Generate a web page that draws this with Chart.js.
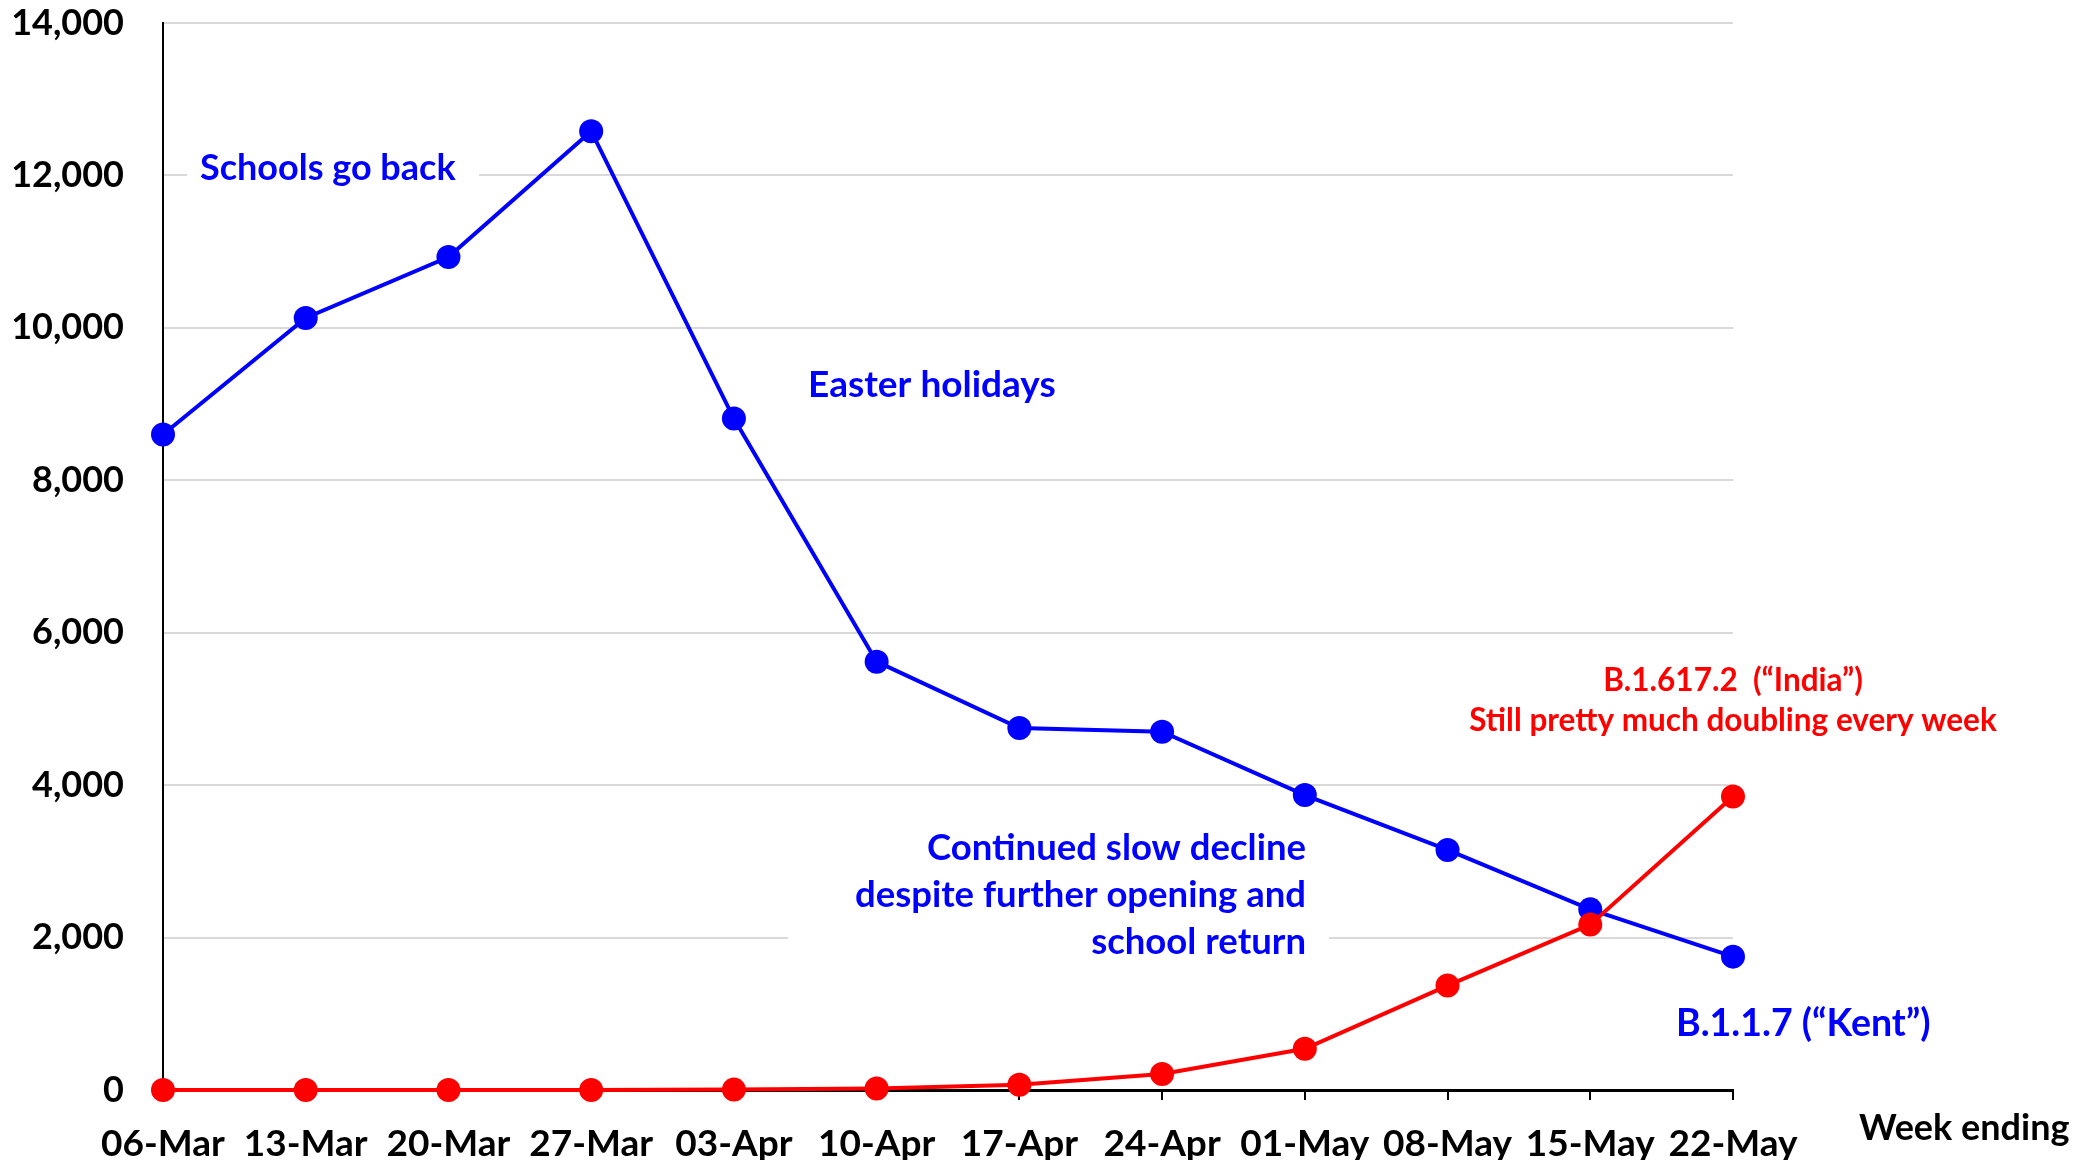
<!DOCTYPE html>
<html>
<head>
<meta charset="utf-8">
<script src="https://cdn.jsdelivr.net/npm/chart.js@4.4.1/dist/chart.umd.min.js"></script>
<style>
  html, body { margin: 0; padding: 0; background: #fff; }
  #wrap { width: 2094px; height: 1160px; }
</style>
</head>
<body>
<div id="wrap"><canvas id="c" width="2094" height="1160"></canvas></div>
<script>
// ---- Data ----
const weeks = ['06-Mar','13-Mar','20-Mar','27-Mar','03-Apr','10-Apr','17-Apr','24-Apr','01-May','08-May','15-May','22-May'];
const kentValues = [8600, 10130, 10930, 12580, 8810, 5620, 4750, 4700, 3870, 3150, 2370, 1750];
const indiaValues = [0, 0, 0, 0, 5, 20, 70, 210, 540, 1370, 2170, 3850];
const yTicks = [0, 2000, 4000, 6000, 8000, 10000, 12000, 14000];

const FONT = 'Lato, "Open Sans", "Noto Sans", sans-serif';
const BLUE = '#0000FF';
const RED = '#FF0000';

const notes = [
  { lines: ['Schools go back'], x: 200, y: 168, align: 'left', color: BLUE, size: 36, box: [187, 146, 292, 46] },
  { lines: ['Easter holidays'], x: 808, y: 385, align: 'left', color: BLUE, size: 37 },
  { lines: ['Continued slow decline', 'despite further opening and', 'school return'], x: 1306, y: 848, lh: 47, align: 'right', color: BLUE, size: 36.5, box: [788, 822, 541, 146] },
  { lines: ['B.1.617.2  (\u201CIndia\u201D)', 'Still pretty much doubling every week'], x: 1733, y: 681, lh: 40, align: 'center', color: RED, size: 31.5 },
  { lines: ['B.1.1.7 (\u201CKent\u201D)'], x: 1676, y: 1024, align: 'left', color: BLUE, size: 37.5 },
  { lines: ['Week ending'], x: 1859, y: 1128, align: 'left', color: '#000', size: 36 }
];

const notesPlugin = {
  id: 'notes',
  beforeDatasetsDraw(chart) {
    const ctx = chart.ctx;
    ctx.save();
    notes.forEach(n => {
      if (n.box) {
        ctx.fillStyle = '#fff';
        ctx.fillRect(n.box[0], n.box[1], n.box[2], n.box[3]);
      }
      ctx.fillStyle = n.color;
      ctx.font = 'bold ' + n.size + 'px ' + FONT;
      ctx.textAlign = n.align;
      ctx.textBaseline = 'middle';
      n.lines.forEach((t, i) => {
        ctx.fillText(t, n.x, n.y + i * (n.lh || 0));
      });
    });
    ctx.restore();
  }
};

new Chart(document.getElementById('c'), {
  type: 'line',
  data: {
    labels: weeks,
    datasets: [
      {
        label: 'B.1.617.2 (India)',
        data: indiaValues,
        borderColor: RED,
        backgroundColor: RED,
        pointBackgroundColor: RED,
        pointBorderColor: RED,
        pointRadius: 12,
        pointBorderWidth: 0,
        borderWidth: 4,
        tension: 0,
        clip: false,
        order: 1
      },
      {
        label: 'B.1.1.7 (Kent)',
        data: kentValues,
        borderColor: BLUE,
        backgroundColor: BLUE,
        pointBackgroundColor: BLUE,
        pointBorderColor: BLUE,
        pointRadius: 12,
        pointBorderWidth: 0,
        borderWidth: 4,
        tension: 0,
        clip: false,
        order: 2
      }
    ]
  },
  options: {
    responsive: false,
    animation: false,
    devicePixelRatio: 1,
    layout: { padding: { top: 23, right: 361, left: 0, bottom: 0 } },
    plugins: { legend: { display: false }, tooltip: { enabled: false } },
    scales: {
      x: {
        offset: false,
        grid: { drawOnChartArea: false, drawTicks: true, tickLength: 10, color: '#000', lineWidth: 2 },
        border: { display: true, color: '#000', width: 3 },
        ticks: { color: '#000', font: { family: FONT, size: 37, weight: 'bold' }, padding: 22, maxRotation: 0, autoSkip: false },
        afterFit: s => { s.height = 70; s.paddingLeft = 0; s.paddingRight = 0; }
      },
      y: {
        min: 0,
        max: 14000,
        afterBuildTicks: s => { s.ticks = yTicks.map(v => ({ value: v })); },
        grid: { drawTicks: false, lineWidth: 2, color: c => (c.tick && c.tick.value === 0) ? '#000' : '#d9d9d9' },
        border: { display: true, color: '#000', width: 2 },
        ticks: { color: '#000', font: { family: FONT, size: 36, weight: 'bold' }, padding: 39,
          callback: v => Number(v).toLocaleString('en-US') },
        afterFit: s => { s.width = 163; s.paddingTop = 0; s.paddingBottom = 0; }
      }
    }
  },
  plugins: [notesPlugin]
});
</script>
</body>
</html>
